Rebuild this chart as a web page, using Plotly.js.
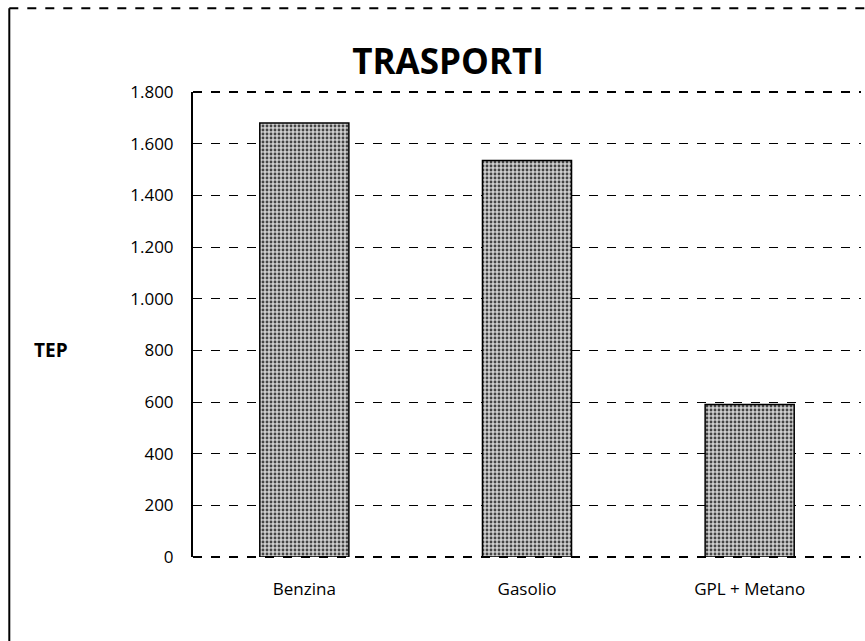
<!DOCTYPE html>
<html>
<head>
<meta charset="utf-8">
<script src="https://cdn.plot.ly/plotly-3.0.1.min.js"></script>
<style>html,body{margin:0;padding:0;background:#fff;}#chart{width:865px;height:641px;}</style>
</head>
<body>
<div id="chart"></div>
<script>
const categories = ["Benzina", "Gasolio", "GPL + Metano"];
const values = [1680, 1535, 590];
const yTicks = [0, 200, 400, 600, 800, 1000, 1200, 1400, 1600, 1800];
const yTickLabels = ["0", "200", "400", "600", "800", "1.000", "1.200", "1.400", "1.600", "1.800"];

const font = "Open Sans, Liberation Sans, sans-serif";
const trace = {
  type: "bar",
  x: categories,
  y: values,
  marker: {
    color: "#a8a8a8",
    line: {color: "#000", width: 1.5},
    pattern: {shape: ".", fgcolor: "#444", bgcolor: "#cfcfcf", size: 4, solidity: 0.4}
  },
  hoverinfo: "x+y"
};

const layout = {
  width: 865, height: 641,
  margin: {l: 193, r: 4, t: 92, b: 84},
  paper_bgcolor: "#fff", plot_bgcolor: "#fff",
  showlegend: false,
  bargap: 0.6,
  title: {text: "<b>TRASPORTI</b>", x: 0.518, xanchor: "center", y: 0.903, yanchor: "middle",
          font: {family: font, size: 35, color: "#000"}},
  xaxis: {
    showgrid: false, zeroline: false, showline: false, ticks: "",
    ticklabelstandoff: 20,
    tickfont: {family: font, size: 17, color: "#000"}
  },
  yaxis: {
    range: [0, 1800], tickvals: yTicks, ticktext: yTickLabels,
    showgrid: true, gridcolor: "#000", gridwidth: 1, griddash: "dash",
    zeroline: false, showline: true, linecolor: "#000", linewidth: 2,
    ticks: "", ticklen: 0, ticklabelstandoff: 14,
    tickfont: {family: font, size: 17, color: "#000"}
  },
  annotations: [
    {text: "<b>TEP</b>", xref: "paper", yref: "paper", x: -0.213, y: 0.445, xanchor: "center", yanchor: "middle",
     showarrow: false, font: {family: font, size: 19, color: "#000"}}
  ],
  shapes: [
    {type: "line", xref: "paper", yref: "paper", x0: -0.275, x1: -0.275, y0: 1.18, y1: -0.2, line: {color: "#000", width: 2}},
    {type: "line", xref: "paper", yref: "paper", x0: -0.275, x1: 1.01, y0: 1.18, y1: 1.18, line: {color: "#000", width: 2, dash: "dash"}},
    {type: "line", xref: "paper", yref: "paper", x0: 0, x1: 1, y0: 1, y1: 1, line: {color: "#000", width: 2, dash: "dash"}},
    {type: "line", xref: "paper", yref: "paper", x0: 0, x1: 1, y0: 0, y1: 0, line: {color: "#000", width: 2, dash: "dash"}}
  ]
};

Plotly.newPlot("chart", [trace], layout, {displayModeBar: false, staticPlot: true});
</script>
</body>
</html>
